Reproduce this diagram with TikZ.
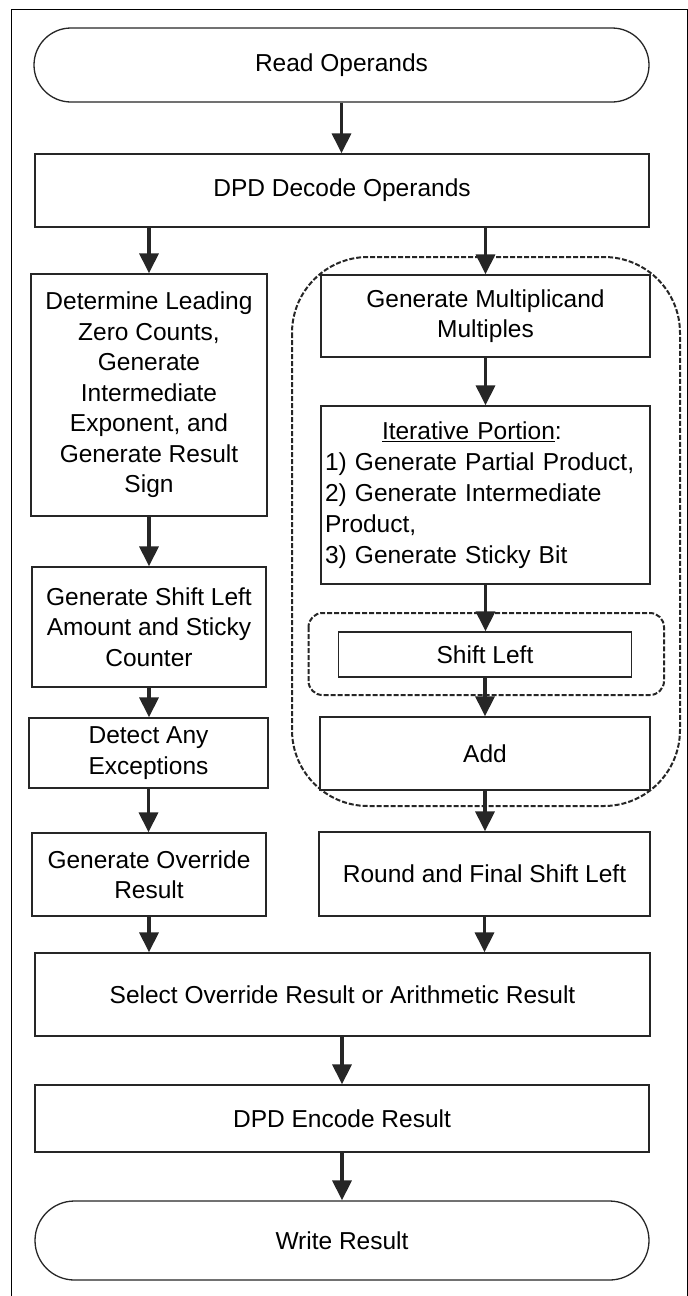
\documentclass[tikz,border=0pt]{standalone}
\usepackage{fontspec}
\setmainfont{Liberation Sans}
\usetikzlibrary{arrows.meta}
\begin{document}
\begin{tikzpicture}[x=1pt,y=-1pt,
  every node/.style={font=\fontsize{24.5}{30.5}\selectfont},
  box/.style={draw=black!85, line width=1.3pt, fill=white, inner sep=0pt, align=center},
  pill/.style={box, rounded corners=#1},
  arr/.style={line width=3.3pt, draw=black!85, -{Triangle[length=20pt,width=19pt]}},
  dashzone/.style={draw=black!85, line width=2pt, dash pattern=on 5pt off 2pt},
  frameline/.style={draw=black, line width=1pt}]
\useasboundingbox (0,0) rectangle (688,1296);

% page frame
\draw[frameline] (11,1296) -- (11,9) -- (687,9) -- (687,1296);

% loop regions
\draw[dashzone, rounded corners=76pt] (292,257) rectangle (680,806);
\draw[dashzone, rounded corners=14pt] (308.5,613) rectangle (664,695);

% terminals and process steps
\node[pill=37pt, minimum width=615pt, minimum height=74pt] (read) at (341.5,65) {Read Operands};
\node[box, minimum width=614pt, minimum height=73pt] (decode) at (342,190.5) {DPD Decode Operands};

\node[box, minimum width=236pt, minimum height=242pt] (det) at (149,395)
  {Determine Leading\\Zero Counts,\\Generate\\Intermediate\\Exponent, and\\Generate Result\\Sign};
\node[box, minimum width=234pt, minimum height=120pt] (shamt) at (149,627)
  {Generate Shift Left\\Amount and Sticky\\Counter};
\node[box, minimum width=239pt, minimum height=70pt] (detect) at (148.5,753)
  {Detect Any\\Exceptions};
\node[box, minimum width=234pt, minimum height=83pt] (ovr) at (149,874.5)
  {Generate Override\\Result};

\node[box, minimum width=329pt, minimum height=82pt] (gm) at (485.5,316)
  {Generate Multiplicand\\Multiples};
\node[box, minimum width=329pt, minimum height=178pt, text width=321pt, align=left,
      font=\fontsize{24.5}{31}\selectfont] (iter) at (485.5,495)
  {\hspace*{57pt}\underline{Iterative Portion}:\\1) Generate Partial Product,\\2) Generate Intermediate\\Product,\\3) Generate Sticky Bit};
\node[box, minimum width=293pt, minimum height=45pt] (shl) at (485,654.5) {Shift Left};
\node[box, minimum width=330pt, minimum height=73pt] (add) at (485,753.5) {Add};
\node[box, minimum width=331pt, minimum height=84pt] (round) at (484.5,874) {Round and Final Shift Left};

\node[box, minimum width=615pt, minimum height=83pt] (sel) at (342.5,994.5)
  {Select Override Result or Arithmetic Result};
\node[box, minimum width=614pt, minimum height=67pt] (enc) at (342,1118.5) {DPD Encode Result};
\node[pill=39.5pt, minimum width=614pt, minimum height=79pt] (write) at (342,1240.5) {Write Result};

% flow
\draw[arr] (read.south) -- (read.south |- decode.north);
\draw[arr] (det.north |- decode.south) -- (det.north);
\draw[arr] (gm.north |- decode.south) -- (gm.north);
\draw[arr] (det.south) -- (shamt.north);
\draw[arr] (shamt.south) -- (shamt.south |- detect.north);
\draw[arr] (detect.south) -- (detect.south |- ovr.north);
\draw[arr] (gm.south) -- (iter.north);
\draw[arr] (iter.south) -- (iter.south |- shl.north);
\draw[arr] (shl.south) -- (add.north);
\draw[arr] (add.south) -- (add.south |- round.north);
\draw[arr] (ovr.south) -- (ovr.south |- sel.north);
\draw[arr] (round.south) -- (round.south |- sel.north);
\draw[arr] (enc.north |- sel.south) -- (enc.north);
\draw[arr] (enc.south) -- (write.north);
\end{tikzpicture}
\end{document}
